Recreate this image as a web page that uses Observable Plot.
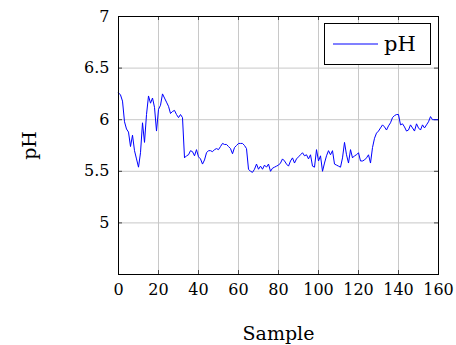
<!DOCTYPE html>
<html>
<head>
<meta charset="utf-8">
<script src="https://cdn.jsdelivr.net/npm/d3@7"></script>
<script src="https://cdn.jsdelivr.net/npm/@observablehq/plot@0.6"></script>
<style>
  html, body { margin: 0; padding: 0; background: #fff; }
  #wrap { position: relative; width: 456px; height: 345px; }
  #wrap svg, #wrap svg text { font-family: "DejaVu Serif", serif !important; }
  #legend {
    position: absolute; left: 324px; top: 23px; width: 107px; height: 42px;
    border: 1px solid #000; background: #fff; box-sizing: border-box;
    font-family: "DejaVu Serif", serif; font-size: 21px;
    display: flex; align-items: center;
  }
  #legend .sw { width: 45px; height: 0; border-top: 2px solid #8080ff; margin-left: 8px; margin-right: 6px; }
</style>
</head>
<body>
<div id="wrap"><div id="legend"><span class="sw"></span><span>pH</span></div></div>
<script>
const seriesName = "pH";
const xLabel = "Sample";
const yLabel = "pH";
const xTicks = [0, 20, 40, 60, 80, 100, 120, 140, 160];
const yTicks = [5, 5.5, 6, 6.5, 7];
const phValues = [
  6.26, 6.24, 6.18, 5.98, 5.91, 5.88, 5.74, 5.85, 5.70, 5.62,
  5.54, 5.68, 5.97, 5.78, 6.05, 6.23, 6.16, 6.21, 6.12, 5.89,
  6.10, 6.14, 6.25, 6.21, 6.17, 6.13, 6.06, 6.08, 6.09, 6.05,
  6.02, 6.05, 6.02, 5.63, 5.65, 5.66, 5.70, 5.69, 5.65, 5.71,
  5.64, 5.62, 5.57, 5.61, 5.68, 5.70, 5.70, 5.69, 5.71, 5.72,
  5.71, 5.74, 5.77, 5.76, 5.76, 5.74, 5.72, 5.67, 5.73, 5.75,
  5.77, 5.77, 5.77, 5.75, 5.72, 5.52, 5.50, 5.49, 5.52, 5.57,
  5.52, 5.55, 5.52, 5.56, 5.54, 5.57, 5.50, 5.53, 5.54, 5.55,
  5.56, 5.58, 5.62, 5.60, 5.57, 5.55, 5.60, 5.63, 5.58, 5.62,
  5.64, 5.66, 5.68, 5.65, 5.66, 5.62, 5.66, 5.55, 5.54, 5.71,
  5.60, 5.65, 5.50, 5.58, 5.65, 5.70, 5.66, 5.70, 5.57, 5.56,
  5.55, 5.54, 5.63, 5.78, 5.66, 5.58, 5.71, 5.63, 5.65, 5.66,
  5.68, 5.60, 5.60, 5.61, 5.63, 5.66, 5.58, 5.73, 5.82, 5.87,
  5.89, 5.92, 5.95, 5.93, 5.90, 5.94, 5.97, 6.02, 6.04, 6.05,
  6.05, 5.95, 5.96, 5.93, 5.89, 5.90, 5.95, 5.92, 5.89, 5.96,
  5.92, 5.90, 5.95, 5.92, 5.95, 5.98, 6.03, 6.00, 6.00, 6.00,
  6.00
];
const data = phValues.map((v, i) => ({sample: i, ph: v}));
const xDomain = [0, 160];
const yDomain = [4.5, 7];

const serif = "DejaVu Serif";
const chart = Plot.plot({
  width: 456,
  height: 345,
  marginLeft: 118,
  marginRight: 18,
  marginTop: 16,
  marginBottom: 71,
  style: {fontFamily: serif, fontSize: "16px", color: "#000", background: "#fff", overflow: "visible"},
  x: {domain: xDomain, ticks: xTicks, label: null},
  y: {domain: yDomain, ticks: yTicks, label: null},
  marks: [
    Plot.ruleX(xTicks, {stroke: "#c8c8c8", strokeWidth: 1}),
    Plot.ruleY(yTicks, {stroke: "#c8c8c8", strokeWidth: 1}),
    Plot.ruleY(yTicks, {x1: 0, x2: 2, stroke: "#444"}),
    Plot.ruleY(yTicks, {x1: 158, x2: 160, stroke: "#444"}),
    Plot.ruleX(xTicks, {y1: 4.5, y2: 4.5385, stroke: "#444"}),
    Plot.ruleX(xTicks, {y1: 6.9615, y2: 7, stroke: "#444"}),
    Plot.line(data, {x: "sample", y: "ph", stroke: "#0000ff", strokeWidth: 1}),
    Plot.frame({stroke: "#000", strokeWidth: 1}),
    Plot.axisX({ticks: xTicks, tickSize: 0, tickPadding: 9, fontSize: 16, fontFamily: serif, label: null}),
    Plot.axisY({ticks: yTicks, tickSize: 0, tickPadding: 9, fontSize: 16, fontFamily: serif, label: null, tickFormat: d => String(d)}),
    Plot.text([xLabel], {frameAnchor: "bottom", dy: 65, fontSize: 19, fontFamily: serif}),
    Plot.text([yLabel], {frameAnchor: "left", textAnchor: "middle", lineAnchor: "middle", dx: -89, rotate: -90, fontSize: 19, fontFamily: serif})
  ]
});
document.getElementById("wrap").prepend(chart);
</script>
</body>
</html>
